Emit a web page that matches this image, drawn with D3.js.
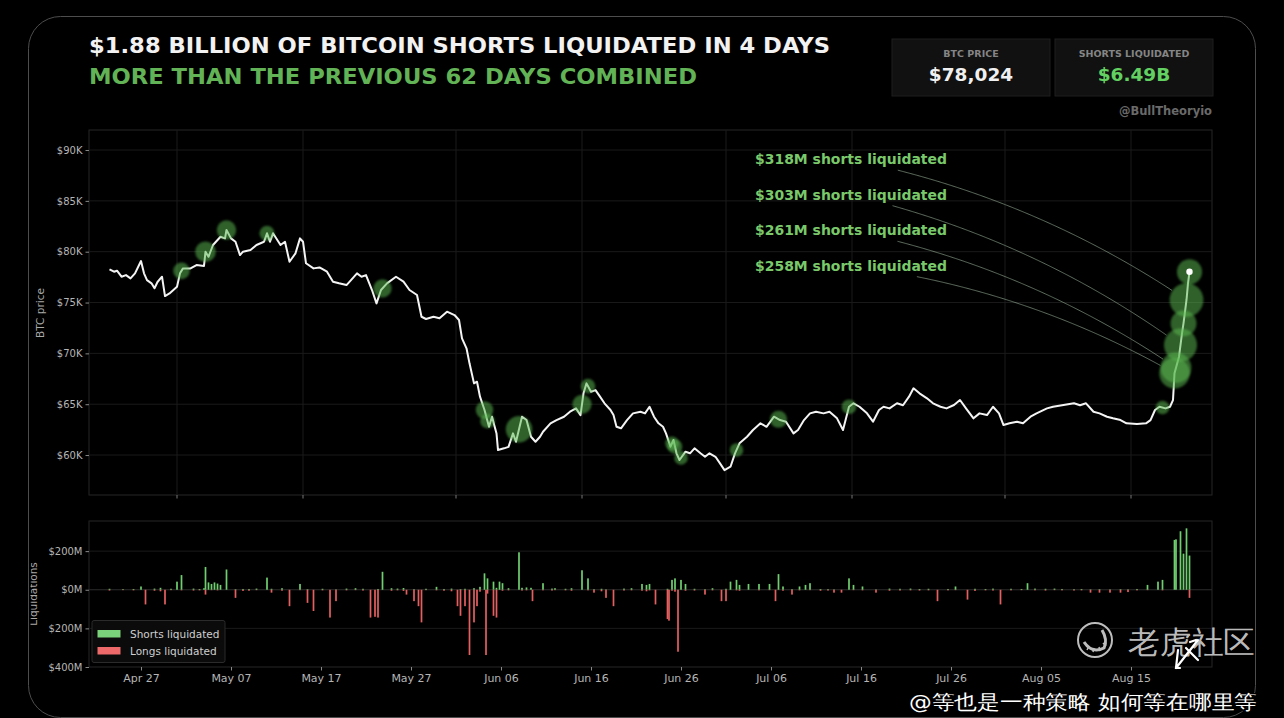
<!DOCTYPE html>
<html><head><meta charset="utf-8">
<script src="https://cdn.jsdelivr.net/npm/d3@7"></script>
<style>
html,body{margin:0;padding:0;background:#000;overflow:hidden;}
svg{display:block;}
text{font-family:"DejaVu Sans",sans-serif;}
</style></head>
<body>
<svg id="chart" width="1284" height="718"></svg>
<script>
// ---------------- DATA ----------------
const headline = "$1.88 BILLION OF BITCOIN SHORTS LIQUIDATED IN 4 DAYS";
const subline = "MORE THAN THE PREVIOUS 62 DAYS COMBINED";
const statLabels = ["BTC PRICE", "SHORTS LIQUIDATED"];
const statValues = ["$78,024", "$6.49B"];
const handle = "@BullTheoryio";

const priceTimes = ["04-23 12","04-24 00","04-24 08","04-24 20","04-25 08","04-25 20","04-26 08","04-27 00","04-27 08","04-27 16",
"04-28 04","04-28 12","04-28 20","04-29 08","04-29 16","04-30 04","05-01 00","05-01 08","05-01 16","05-02 12",
"05-03 04","05-04 00","05-04 04","05-04 12","05-05 00","05-05 20","05-06 08","05-06 12","05-07 00","05-07 12",
"05-08 00","05-08 08","05-09 04","05-09 20","05-10 16","05-11 00","05-11 08","05-11 16","05-12 12","05-13 00",
"05-13 12","05-14 04","05-14 16","05-15 00","05-15 08","05-16 04","05-16 20","05-17 16","05-18 08","05-19 00",
"05-19 20","05-20 08","05-21 00","05-21 12","05-22 00","05-22 16","05-23 04","05-23 16","05-24 08","05-25 08",
"05-26 04","05-26 20","05-27 16","05-28 04","05-28 16","05-29 12","05-30 04","05-31 00","05-31 20","06-01 08",
"06-01 16","06-02 04","06-02 12","06-03 00","06-03 08","06-03 16","06-04 04","06-04 16","06-05 00","06-05 12",
"06-05 16","06-06 08","06-06 20","06-07 08","06-07 16","06-08 08","06-08 20","06-09 08","06-09 20","06-10 08",
"06-10 16","06-11 12","06-12 04","06-13 00","06-13 16","06-14 08","06-14 20","06-15 04","06-15 12","06-16 00",
"06-16 12","06-17 00","06-17 12","06-18 04","06-18 12","06-18 20","06-19 08","06-20 00","06-20 16","06-21 12",
"06-22 00","06-22 12","06-23 00","06-23 12","06-24 00","06-24 08","06-24 20","06-25 04","06-25 12","06-25 20",
"06-26 12","06-27 00","06-27 12","06-28 04","06-28 16","06-29 04","06-29 20","06-30 08","06-30 20","07-01 12",
"07-02 00","07-02 12","07-03 08","07-04 00","07-04 20","07-05 12","07-06 08","07-07 00","07-07 16","07-08 12",
"07-09 00","07-09 16","07-10 08","07-11 00","07-11 20","07-12 12","07-13 08","07-14 00","07-14 16","07-15 04",
"07-15 20","07-16 16","07-17 08","07-18 00","07-18 12","07-19 04","07-20 00","07-20 16","07-21 08","07-21 20",
"07-22 12","07-23 08","07-24 00","07-24 20","07-25 12","07-26 08","07-27 00","07-27 16","07-28 12","07-29 04",
"07-30 00","07-30 16","07-31 08","07-31 20","08-01 12","08-02 08","08-03 00","08-03 20","08-04 12","08-05 16",
"08-06 08","08-07 12","08-08 16","08-09 08","08-10 00","08-10 20","08-11 12","08-12 08","08-13 00","08-13 20",
"08-14 12","08-15 16","08-16 16","08-17 04","08-17 16","08-18 04","08-18 20","08-19 08","08-19 16","08-19 20",
"08-20 08","08-20 16","08-20 20","08-21 04","08-21 08","08-21 12"];
const priceValues = [78270,78030,78130,77540,77700,77380,77870,79080,77870,77210,
76890,76400,77020,77540,75640,75900,76550,77870,78360,78360,
78690,78600,80000,79500,80660,81470,81310,82130,81310,80980,
79670,80000,80160,80660,80980,81810,80980,81810,80660,80980,
79010,79840,81310,80980,78860,78360,78450,78030,77050,76890,
76720,77210,77870,77540,77700,76230,74920,76230,76890,77540,
77050,76230,75740,73600,73380,73600,73450,74100,73770,73280,
71480,70500,69020,67050,67210,65740,64430,62780,63770,62130,
60490,60660,60800,62130,61310,63770,63440,61800,61310,61800,
62290,63120,63440,63770,64260,64590,63930,66070,67050,66230,
66390,65740,65090,64430,63930,62780,62630,63440,64100,64260,
64100,64750,63770,63120,62780,62130,60820,61480,60170,59510,
60330,60170,60660,60170,59830,60170,59830,59180,58520,58850,
60170,61150,61800,62460,63120,62780,63770,63440,63280,62130,
62460,63440,64100,64260,64100,64260,63610,62460,64750,65090,
64750,64100,63280,64430,64750,64590,65090,64900,65740,66560,
66070,65580,65090,64750,64590,64920,65410,64590,63610,64100,
63930,64750,64100,62950,63120,63280,63120,63770,64100,64590,
64750,64920,65090,64900,65090,64260,64100,63770,63610,63440,
63120,63050,63120,63440,64430,64750,64590,64750,65410,68040,
69670,71970,72950,75250,76890,78024];

const barTimes = ["04-23 12","04-25 00","04-26 04","04-27 00","04-27 12","04-28 12","04-29 04","04-29 16","04-30 08","05-01 00",
"05-01 12","05-02 20","05-03 12","05-04 00","05-04 04","05-04 12","05-04 20","05-05 04","05-05 12","05-05 20",
"05-06 12","05-07 12","05-08 08","05-09 00","05-09 20","05-11 00","05-11 12","05-12 16","05-13 12","05-14 16",
"05-15 12","05-16 04","05-17 04","05-18 00","05-18 16","05-19 20","05-20 20","05-21 16","05-22 12","05-23 00",
"05-23 08","05-23 20","05-24 20","05-25 12","05-26 04","05-26 12","05-27 08","05-27 20","05-28 04","05-28 16",
"05-29 20","05-30 16","05-31 12","06-01 04","06-01 12","06-02 00","06-02 12","06-03 00","06-03 08","06-03 16",
"06-04 04","06-04 08","06-04 12","06-05 04","06-05 12","06-05 20","06-06 04","06-06 20","06-08 00","06-08 08",
"06-08 20","06-09 08","06-09 12","06-10 16","06-11 16","06-12 00","06-13 04","06-13 20","06-15 00","06-15 16",
"06-16 08","06-17 04","06-17 16","06-18 12","06-19 16","06-20 12","06-21 16","06-22 04","06-22 12","06-23 04",
"06-24 12","06-24 16","06-25 00","06-25 08","06-25 16","06-26 00","06-26 12","06-27 12","06-28 16","06-29 12",
"06-30 12","07-01 00","07-01 12","07-02 04","07-02 12","07-03 12","07-04 16","07-05 20","07-06 12","07-06 20",
"07-07 08","07-08 08","07-09 04","07-09 20","07-10 08","07-11 12","07-12 08","07-13 00","07-13 20","07-14 16",
"07-15 04","07-16 04","07-17 16","07-19 04","07-20 08","07-21 12","07-22 12","07-23 12","07-24 12","07-25 16",
"07-26 12","07-27 20","07-28 16","07-29 20","07-30 16","07-31 12","08-01 16","08-02 20","08-03 12","08-04 08",
"08-05 12","08-06 12","08-07 08","08-08 16","08-09 12","08-10 12","08-11 12","08-12 16","08-13 20","08-14 16",
"08-15 16","08-16 20","08-18 00","08-18 12","08-19 20","08-20 00","08-20 12","08-20 20","08-21 04","08-21 12"];
const shortsM = [5,3,4,17,0,6,10,0,5,42,
76,6,4,8,118,38,30,38,32,25,
105,3,4,4,6,63,5,8,0,30,
3,0,5,0,2,6,8,5,0,0,
4,93,8,6,9,0,3,0,0,5,
15,4,6,0,3,5,0,8,0,15,
85,0,59,42,10,42,34,8,194,10,
12,10,0,34,6,8,5,8,101,59,
3,5,2,0,6,8,30,25,30,0,
5,0,51,59,0,51,30,5,3,8,
0,5,42,51,25,30,30,30,0,81,
17,3,17,25,34,4,3,2,0,59,
25,17,2,6,5,6,4,5,0,4,
17,0,5,4,6,0,5,4,34,6,
5,6,4,3,4,2,3,2,3,2,
4,25,42,51,258,261,303,187,318,177];
const longsM = [4,2,3,0,76,5,8,76,2,0,
3,4,3,0,25,0,2,0,3,0,
0,42,6,5,2,0,15,5,85,2,
68,110,3,144,59,3,2,4,144,140,
144,0,5,3,6,25,59,85,169,2,
3,5,8,85,135,85,338,169,85,10,
0,338,20,135,144,0,5,3,0,4,
3,0,59,3,4,2,3,5,0,3,
15,8,42,85,4,3,5,8,3,76,
152,160,5,10,321,0,5,4,25,3,
59,59,0,3,5,0,3,2,59,0,
5,25,3,0,2,5,4,15,15,0,
2,3,15,5,4,3,4,3,59,3,
2,51,6,3,4,76,3,2,0,3,
4,2,3,4,3,15,15,15,15,12,
3,2,0,3,0,0,0,0,0,42];

const annoLabels = ["$318M shorts liquidated","$303M shorts liquidated","$261M shorts liquidated","$258M shorts liquidated"];
const annoTimes = ["08-21 04","08-20 12","08-20 00","08-19 20"];

const priceTicks = [60000,65000,70000,75000,80000,85000,90000];
const priceTickLabels = ["$60K","$65K","$70K","$75K","$80K","$85K","$90K"];
const liqTicks = [-400,-200,0,200];
const liqTickLabels = ["$400M","$200M","$0M","$200M"];
const dateTickLabels = ["Apr 27","May 07","May 17","May 27","Jun 06","Jun 16","Jun 26","Jul 06","Jul 16","Jul 26","Aug 05","Aug 15"];
const gridDates = ["05-01","05-15","06-01","06-15","07-01","07-15","08-01","08-15"];
const legendLabels = ["Shorts liquidated","Longs liquidated"];
const watermarkBrand = "老虎社区";
const watermarkUser = "@等也是一种策略 如何等在哪里等";

// ---------------- CHART ----------------
const parseT = d3.timeParse("%Y-%m-%d %H");
const T = s => parseT("2025-" + s);
const parseTick = d3.timeParse("%b %d %Y");
const parseDay = d3.timeParse("%Y-%m-%d");

const svg = d3.select("#chart");
const L = 89, R = 1212, topY0 = 130, topY1 = 495, botY0 = 521, botY1 = 667;

const GREEN = "#6fcf6f", RED = "#e45f5f";

const x = d3.scaleTime().domain([new Date(2025,3,21,5,20), new Date(2025,7,24,0,0)]).range([L, R]);
const yP = d3.scaleLinear().domain([56070, 91970]).range([topY1, topY0]);
const yL = d3.scaleLinear().domain([-400, 356]).range([botY1, botY0]);
const rS = d3.scaleSqrt().domain([0, 318]).range([0, 16.9]);

const prices = priceTimes.map((t,i)=>({t:T(t), v:priceValues[i]}));
const bars = barTimes.map((t,i)=>({t:T(t), s:shortsM[i], l:longsM[i], key:t}));
const bis = d3.bisector(d=>d.t).left;
function priceAt(t){
  const i = bis(prices, t);
  if (i <= 0) return prices[0].v;
  if (i >= prices.length) return prices[prices.length-1].v;
  const a = prices[i-1], b = prices[i];
  const f = (t - a.t) / (b.t - a.t);
  return a.v + f*(b.v - a.v);
}

svg.append("rect").attr("width",1284).attr("height",718).attr("fill","#000");

const defs = svg.append("defs");
defs.append("filter").attr("id","soft").append("feGaussianBlur").attr("stdDeviation",0.8);
defs.append("clipPath").attr("id","leftclip").append("rect").attr("x",30.5).attr("y",0).attr("width",1284).attr("height",718);

// outer rounded frame
svg.append("rect").attr("x",28.5).attr("y",16.5).attr("width",1227).attr("height",701).attr("rx",32)
  .attr("fill","none").attr("stroke","#4d4d4d").attr("stroke-width",1);

// header
svg.append("text").attr("x",L).attr("y",53).attr("fill","#f2f2f2").attr("font-weight","bold")
  .attr("font-size",22).attr("textLength",741).attr("lengthAdjust","spacingAndGlyphs").text(headline);
svg.append("text").attr("x",L).attr("y",84).attr("fill","#62b356").attr("font-weight","bold")
  .attr("font-size",22).attr("textLength",608).attr("lengthAdjust","spacingAndGlyphs").text(subline);

// stat boxes
const boxX = [892, 1055];
statLabels.forEach((lab,i)=>{
  const bx = boxX[i];
  svg.append("rect").attr("x",bx).attr("y",39).attr("width",158).attr("height",57)
    .attr("fill","#111").attr("stroke","#1f1f1f");
  svg.append("text").attr("x",bx+79).attr("y",57).attr("text-anchor","middle").attr("font-size",9.5)
    .attr("font-weight","bold").attr("fill","#858585").text(lab);
  svg.append("text").attr("x",bx+79).attr("y",81).attr("text-anchor","middle").attr("font-size",18.5)
    .attr("font-weight","bold").attr("fill", i===0 ? "#f0f0f0" : "#62d162").text(statValues[i]);
});
svg.append("text").attr("x",R).attr("y",115).attr("text-anchor","end").attr("font-size",11.5)
  .attr("font-weight","bold").attr("fill","#6a6a6a").text(handle);

// ---- top panel ----
const topG = svg.append("g");
topG.append("rect").attr("x",L).attr("y",topY0).attr("width",R-L).attr("height",topY1-topY0)
  .attr("fill","#000").attr("stroke","#262626");
topG.selectAll(".hg").data(priceTicks).join("line")
  .attr("x1",L).attr("x2",R).attr("y1",d=>yP(d)).attr("y2",d=>yP(d)).attr("stroke","#1a1a1a");
const gd = gridDates.map(s=>parseDay("2025-"+s));
topG.selectAll(".vg").data(gd).join("line")
  .attr("x1",d=>x(d)).attr("x2",d=>x(d)).attr("y1",topY0).attr("y2",topY1).attr("stroke","#1a1a1a");
topG.selectAll(".vt").data(gd).join("line")
  .attr("x1",d=>x(d)).attr("x2",d=>x(d)).attr("y1",topY1).attr("y2",topY1+3.5).attr("stroke","#777");

const yAxisP = d3.axisLeft(yP).tickValues(priceTicks).tickFormat((d,i)=>priceTickLabels[i]).tickSize(3.5).tickPadding(3);
const gyP = svg.append("g").attr("transform",`translate(${L},0)`).call(yAxisP);
gyP.select(".domain").remove();
gyP.selectAll("line").attr("stroke","#888");
gyP.selectAll("text").attr("fill","#b5b5b5").attr("font-size",10).attr("font-family","DejaVu Sans");

svg.append("text").attr("transform","translate(44,313) rotate(-90)").attr("text-anchor","middle")
  .attr("font-size",10.5).attr("fill","#a8a8a8").text("BTC price");

// price line
topG.append("path").datum(prices)
  .attr("d", d3.line().x(d=>x(d.t)).y(d=>yP(d.v)))
  .attr("fill","none").attr("stroke","#f4f4f4").attr("stroke-width",2).attr("stroke-linejoin","round");

// annotations
const annG = svg.append("g");
annoLabels.forEach((lab,i)=>{
  const tx = 755, by = 164 + i*35.5, w = 192;
  annG.append("text").attr("x",tx).attr("y",by).attr("font-size",14).attr("font-weight","bold")
    .attr("fill","#79c96b").attr("textLength",w).attr("lengthAdjust","spacingAndGlyphs").text(lab);
  const idx = barTimes.indexOf(annoTimes[i]);
  const tt = T(annoTimes[i]);
  const ex = x(tt), ey = yP(priceAt(tt)), r = rS(shortsM[idx]);
  const cx = tx + w/2, cy = by - 4.5;
  const dx = ex - cx, dy = ey - cy, rad = 0.1;
  const qx = (cx+ex)/2 + rad*dy, qy = (cy+ey)/2 - rad*dx;
  const pts = [];
  for (let k=0;k<=300;k++){
    const s = k/300;
    const px = (1-s)*(1-s)*cx + 2*(1-s)*s*qx + s*s*ex;
    const py = (1-s)*(1-s)*cy + 2*(1-s)*s*qy + s*s*ey;
    const inBox = px>=tx-3 && px<=tx+w+3 && py>=by-14 && py<=by+6;
    const inCirc = Math.hypot(px-ex, py-ey) < r;
    if (!inBox && !inCirc) pts.push([px,py]);
  }
  annG.append("path").attr("d", d3.line()(pts)).attr("fill","none")
    .attr("stroke","#90a890").attr("stroke-opacity",0.65).attr("stroke-width",1);
});

// bubbles
const bub = bars.filter(d=>d.s >= 45);
topG.selectAll(".bub").data(bub).join("circle")
  .attr("cx",d=>x(d.t)).attr("cy",d=>yP(priceAt(d.t))).attr("r",d=>rS(d.s))
  .attr("fill","#5cba50").attr("fill-opacity",0.52).attr("filter","url(#soft)");
const last = prices[prices.length-1];
topG.append("circle").attr("cx",x(last.t)).attr("cy",yP(last.v)).attr("r",3.2).attr("fill","#fff");

// ---- bottom panel ----
const botG = svg.append("g");
botG.append("rect").attr("x",L).attr("y",botY0).attr("width",R-L).attr("height",botY1-botY0)
  .attr("fill","#000").attr("stroke","#262626");
botG.selectAll(".hg").data(liqTicks.filter(d=>d>-400)).join("line")
  .attr("x1",L).attr("x2",R).attr("y1",d=>yL(d)).attr("y2",d=>yL(d))
  .attr("stroke",d=>d===0?"#2c2c2c":"#1a1a1a");

const bw = 1.7;
botG.selectAll(".sb").data(bars.filter(d=>d.s>0)).join("rect")
  .attr("x",d=>x(d.t)-bw/2).attr("width",bw)
  .attr("y",d=>yL(d.s)).attr("height",d=>yL(0)-yL(d.s)).attr("fill",GREEN);
botG.selectAll(".lb").data(bars.filter(d=>d.l>0)).join("rect")
  .attr("x",d=>x(d.t)-bw/2).attr("width",bw)
  .attr("y",yL(0)).attr("height",d=>yL(-d.l)-yL(0)).attr("fill",RED);

const yAxisL = d3.axisLeft(yL).tickValues(liqTicks).tickFormat((d,i)=>liqTickLabels[i]).tickSize(3.5).tickPadding(3);
const gyL = svg.append("g").attr("transform",`translate(${L},0)`).call(yAxisL);
gyL.select(".domain").remove();
gyL.selectAll("line").attr("stroke","#888");
gyL.selectAll("text").attr("fill","#b5b5b5").attr("font-size",10).attr("font-family","DejaVu Sans");

const dateTicks = dateTickLabels.map(s=>parseTick(s+" 2025"));
const xAxis = d3.axisBottom(x).tickValues(dateTicks).tickFormat((d,i)=>dateTickLabels[i]).tickSize(3.5).tickPadding(4);
const gx = svg.append("g").attr("transform",`translate(0,${botY1})`).call(xAxis);
gx.select(".domain").remove();
gx.selectAll("line").attr("stroke","#888");
gx.selectAll("text").attr("fill","#b5b5b5").attr("font-size",11).attr("font-family","DejaVu Sans");

svg.append("g").attr("clip-path","url(#leftclip)")
  .append("text").attr("transform","translate(37,594) rotate(-90)")
  .attr("text-anchor","middle").attr("font-size",10.5).attr("fill","#a8a8a8").text("Liquidations");

// legend
const lg = svg.append("g");
lg.append("rect").attr("x",92).attr("y",620.5).attr("width",133).attr("height",42).attr("rx",2)
  .attr("fill","#0b0b0b").attr("stroke","#2b2b2b");
[GREEN, RED].forEach((c,i)=>{
  lg.append("rect").attr("x",97.5).attr("y",630+i*17).attr("width",23).attr("height",7.5).attr("fill", i===0?"#7ad27a":"#ee6a6a");
  lg.append("text").attr("x",130).attr("y",637.5+i*17).attr("font-size",10.5).attr("fill","#cfcfcf").text(legendLabels[i]);
});

// watermark
const wm = svg.append("g");
wm.append("circle").attr("cx",1095).attr("cy",640).attr("r",17).attr("fill","none").attr("stroke","#bdbdbd").attr("stroke-width",2);
wm.append("path").attr("d","M1084,642 Q1092,654 1104,648 Q1108,640 1102,630").attr("fill","none").attr("stroke","#bdbdbd").attr("stroke-width",3);
wm.append("path").attr("d","M1089,646 l-2,4 M1094,648 l-1,4 M1099,647 l1,4 M1103,643 l3,3").attr("stroke","#bdbdbd").attr("stroke-width",1.5);
wm.append("text").attr("x",1128).attr("y",653).attr("font-family","Noto Sans CJK SC").attr("font-size",31)
  .attr("fill","#d4d4d4").attr("fill-opacity",0.9).attr("textLength",127).attr("lengthAdjust","spacingAndGlyphs").text(watermarkBrand);
wm.append("path").attr("d","M1176,668 L1198,640 M1180,668 L1176,668 L1178,650 M1186,648 L1198,660 M1190,642 L1196,640")
  .attr("fill","none").attr("stroke","#ffffff").attr("stroke-width",2.2).attr("stroke-linecap","round");
wm.append("text").attr("x",909).attr("y",709).attr("font-family","Noto Sans CJK SC").attr("font-size",20)
  .attr("fill","#ffffff").attr("stroke","#000").attr("stroke-width",3).attr("paint-order","stroke")
  .attr("textLength",348).attr("lengthAdjust","spacingAndGlyphs").text(watermarkUser);
</script>
</body></html>
